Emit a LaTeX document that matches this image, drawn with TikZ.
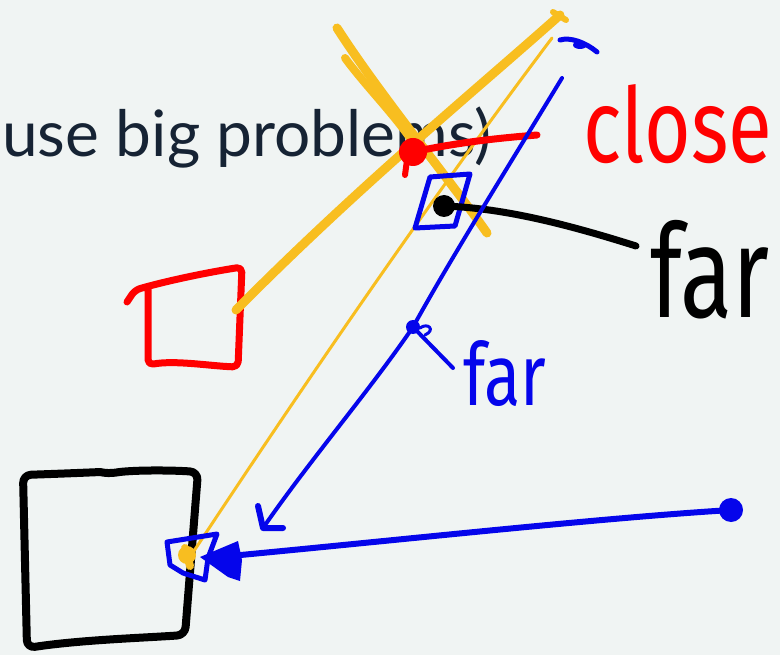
\documentclass[tikz,border=0pt]{standalone}
\usepackage{fontspec}
\setmainfont{Lato}
\newfontfamily\handfont{Fira Sans}
\definecolor{bgc}{RGB}{240,244,243}
\definecolor{ink}{RGB}{22,35,52}
\definecolor{yel}{RGB}{248,190,32}
\definecolor{redc}{RGB}{255,0,0}
\definecolor{bluc}{RGB}{5,5,235}
\begin{document}
\begin{tikzpicture}[x=0.75pt,y=-0.75pt,line cap=round,line join=round,
  pen/.style={line width=#1*0.75pt},
  yelpen/.style={draw=yel,pen=#1},
  redpen/.style={draw=redc,pen=#1},
  blupen/.style={draw=bluc,pen=#1},
  blkpen/.style={draw=black,pen=#1},
  hand/.style={font=\handfont\fontsize{#1}{#1}\selectfont,inner sep=0pt,anchor=base west}]
\fill[bgc] (0,0) rectangle (780,655);
\useasboundingbox (0,0) rectangle (780,655);
% heading text
\node[ink,inner sep=0pt,anchor=base west,font=\fontsize{48}{48}\selectfont] (head) at (2,157) {use big problems)};
% coordinates
\coordinate (ytopR) at (560,15);
\coordinate (ytopL) at (337,28);
\coordinate (ybotR) at (487,233);
\coordinate (redsqR) at (236,310);
\coordinate (ythinT) at (552,38);
\coordinate (ythinB) at (188,560);
\coordinate (redD) at (413,152);
\coordinate (redE) at (537,135);
\coordinate (blkD) at (444,206);
\coordinate (blkE) at (636,246);
\coordinate (bluT) at (562,78);
\coordinate (bluM) at (413,327);
\coordinate (bluTip) at (263,528);
\coordinate (bluR) at (731,510);
\coordinate (bluL) at (230,556);
% big black square
\draw[blkpen=8, rounded corners=6pt] (23,475) .. controls (80,473) and (100,472) .. (108,474) .. controls (130,470) and (170,470) .. (198,472) -- (185,635) .. controls (140,638) and (80,640) .. (27,648) -- cycle;
% red square
\draw[redpen=7, rounded corners=4pt] (127,302) -- (135,290) .. controls (170,280) and (210,272) .. (242,267) -- (238,367) .. controls (210,366) and (175,360) .. (148,365) -- (148,288);
% yellow strokes
\draw[yelpen=9] (ytopR) .. controls (470,95) and (360,185) .. (redsqR);
\draw[yelpen=9] (ytopL) .. controls (380,95) and (450,180) .. (ybotR);
\draw[yelpen=8] (345,58) .. controls (365,85) and (390,110) .. (410,138);
\draw[yelpen=6] (553,12) -- (566,20);
\draw[yelpen=3] (ythinT) .. controls (430,200) and (300,390) .. (ythinB);
\fill[yel] (187,555) circle (9);
\draw[yelpen=8] (185,548) -- (190,566);
% red dot and line
\draw[redpen=7] (redD) .. controls (460,142) and (500,138) .. (redE);
\fill[redc] (redD) circle (14);
\draw[redpen=6] (407,160) -- (405,175);
% blue box around black dot
\draw[blupen=5] (430,177) -- (470,174) -- (455,226) -- (415,228) -- cycle;
% black dot and pointer
\fill[black] (blkD) circle (11);
\draw[blkpen=7] (blkD) .. controls (500,208) and (560,222) .. (blkE);
% blue diagonal arrow
\draw[blupen=4] (bluT) .. controls (500,180) and (450,260) .. (bluM) .. controls (370,390) and (310,460) .. (bluTip);
\draw[blupen=6] (258,506) -- (bluTip) -- (283,528);
\fill[bluc] (bluM) circle (7);
\draw[blupen=4] (bluM) -- (453,368);
\draw[blupen=3] (420,328) .. controls (428,322) and (436,330) .. (425,335);
\draw[blupen=5] (560,40) .. controls (570,37) and (585,42) .. (597,52);
\fill[bluc] (580,45) ellipse (7 and 4);
% blue horizontal arrow
\fill[bluc] (bluR) circle (12);
\draw[blupen=6] (bluR) .. controls (600,518) and (400,540) .. (bluL);
\fill[bluc] (200,557) -- (238,541) -- (242,560) -- (240,581) -- (228,577) -- cycle;
\draw[blupen=5] (167,542) -- (217,534) -- (208,558) -- (205,580) -- (183,573) -- (170,565) -- cycle;
% handwritten labels
\node[hand=60,redc] (close) at (583,163) {\scalebox{1}[1.3]{close}};
\node[hand=72,black] (farblk) at (650,318) {\scalebox{1}[1.35]{far}};
\node[hand=50,bluc] (farblu) at (463,405) {\scalebox{1}[1.3]{far}};
\end{tikzpicture}
\end{document}
